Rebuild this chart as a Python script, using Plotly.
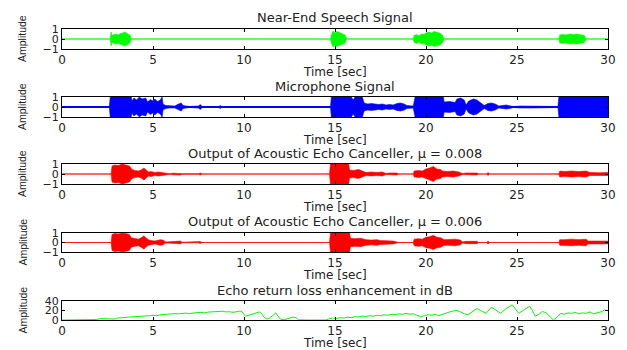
import plotly.graph_objects as go

# ---- data: (time [s], envelope amplitude) breakpoints of each signal ----
near_end = [(0, 0), (2.65, 0), (2.7, 0.7), (2.75, 0.3), (2.85, 0.45), (3.0, 0.5), (3.1, 0.4),
            (3.2, 0.55), (3.35, 0.6), (3.45, 0.7), (3.55, 0.6), (3.65, 0.5), (3.75, 0.35), (3.8, 0),
            (14.75, 0), (14.8, 0.4), (14.9, 0.8), (15.0, 0.6), (15.1, 0.75), (15.25, 0.65),
            (15.4, 0.5), (15.55, 0.4), (15.65, 0),
            (19.3, 0), (19.35, 0.35), (19.5, 0.45), (19.6, 0.3), (19.75, 0.5), (19.9, 0.45),
            (20.0, 0.6), (20.15, 0.7), (20.3, 0.6), (20.45, 0.75), (20.6, 0.65), (20.75, 0.6),
            (20.9, 0.4), (21.0, 0),
            (27.3, 0), (27.35, 0.4), (27.5, 0.45), (27.7, 0.4), (27.9, 0.5), (28.1, 0.45),
            (28.3, 0.5), (28.5, 0.45), (28.7, 0.35), (28.8, 0), (30, 0)]

microphone = [(0, 0), (2.6, 0), (2.65, 1), (3.8, 1), (3.85, 0.6), (3.95, 0.9), (4.1, 0.7),
              (4.25, 1), (4.4, 0.8), (4.6, 0.9), (4.7, 0.5), (4.85, 0.75), (5.0, 0.6), (5.1, 0.8),
              (5.25, 0.55), (5.4, 0.7), (5.5, 1), (5.55, 0.3), (5.7, 0.15), (5.9, 0.1), (6.2, 0.1),
              (6.4, 0.3), (6.55, 0.4), (6.65, 0.15), (7.0, 0.05), (7.5, 0.1), (7.6, 0.25),
              (7.7, 0.05), (8.6, 0.05), (8.7, 0.15), (8.8, 0),
              (14.75, 0), (14.8, 1), (15.9, 1), (16.0, 0.7), (16.1, 1), (16.5, 1), (16.6, 0.4),
              (16.8, 0.3), (17.0, 0.35), (17.2, 0.3), (17.4, 0.25), (17.6, 0.3), (17.8, 0.2),
              (18.0, 0.25), (18.2, 0.2), (18.4, 0.35), (18.6, 0.4), (18.8, 0.3), (18.95, 0.15),
              (19.3, 0.1), (19.4, 1), (20.95, 1), (21.0, 0.5), (21.3, 0.55), (21.6, 0.45),
              (21.7, 0.8), (21.9, 0.9), (22.1, 0.7), (22.2, 0.2), (22.35, 0.6), (22.6, 0.8),
              (22.8, 0.7), (23.0, 0.4), (23.2, 0.15), (23.4, 0.35), (23.6, 0.4), (23.8, 0.3),
              (24.0, 0.1), (24.4, 0.2), (24.6, 0.15), (24.8, 0.05), (25.2, 0.1), (25.8, 0.1),
              (26.0, 0.03), (27.25, 0.05), (27.3, 1), (30, 1)]

aec_out_008 = [(0, 0), (2.7, 0), (2.75, 0.8), (2.9, 0.9), (3.1, 0.85), (3.3, 1.0), (3.5, 0.9),
               (3.7, 0.8), (3.85, 0.45), (4.0, 0.35), (4.2, 0.3), (4.35, 0.4), (4.5, 0.6),
               (4.6, 0.45), (4.75, 0.2), (4.9, 0.25), (5.1, 0.15), (5.3, 0.2), (5.5, 0.15),
               (5.7, 0.1), (5.9, 0.03), (6.1, 0.08), (6.5, 0.1), (6.6, 0.03), (7.5, 0.03),
               (7.6, 0.1), (7.7, 0),
               (14.7, 0), (14.75, 1), (15.75, 1), (15.8, 0.4), (16.0, 0.35), (16.3, 0.45),
               (16.5, 0.3), (16.7, 0.15), (17.0, 0.2), (17.3, 0.15), (17.6, 0.2), (17.8, 0.05),
               (18.0, 0.1), (18.4, 0.1), (18.5, 0),
               (19.3, 0), (19.35, 0.3), (19.6, 0.35), (19.8, 0.3), (20.0, 0.5), (20.2, 0.6),
               (20.4, 0.75), (20.6, 0.5), (20.8, 0.45), (20.9, 0.3), (21.2, 0.25), (21.5, 0.3),
               (21.8, 0.2), (22.0, 0.05), (22.2, 0.1), (22.8, 0.1), (22.9, 0),
               (23.35, 0), (23.4, 0.15), (23.5, 0),
               (27.3, 0), (27.35, 0.3), (27.6, 0.25), (28.0, 0.3), (28.4, 0.25), (28.8, 0.3),
               (29.0, 0.15), (29.5, 0.12), (30, 0.15)]

aec_out_006 = [(0, 0), (2.7, 0), (2.75, 0.85), (2.9, 0.95), (3.1, 0.9), (3.3, 1.0), (3.5, 0.95),
               (3.7, 0.85), (3.8, 0.5), (4.0, 0.4), (4.2, 0.35), (4.4, 0.55), (4.5, 0.7),
               (4.6, 0.5), (4.75, 0.3), (4.9, 0.2), (5.1, 0.15), (5.4, 0.3), (5.55, 0.25),
               (5.7, 0.05), (6.3, 0.1), (6.5, 0.15), (6.6, 0.03), (7.5, 0.03), (7.6, 0.1), (7.7, 0),
               (14.7, 0), (14.75, 1), (15.8, 1), (15.85, 0.45), (16.1, 0.4), (16.4, 0.45),
               (16.7, 0.3), (17.0, 0.25), (17.3, 0.3), (17.5, 0.2), (17.8, 0.15), (18.2, 0.15),
               (18.5, 0),
               (19.3, 0), (19.35, 0.35), (19.6, 0.4), (19.8, 0.35), (20.0, 0.55), (20.2, 0.6),
               (20.4, 0.75), (20.6, 0.55), (20.8, 0.5), (21.0, 0.3), (21.3, 0.3), (21.6, 0.35),
               (21.9, 0.25), (22.0, 0.05), (22.2, 0.12), (22.8, 0.12), (22.9, 0),
               (23.35, 0), (23.4, 0.15), (23.5, 0),
               (27.3, 0), (27.35, 0.3), (27.6, 0.3), (28.0, 0.35), (28.4, 0.3), (28.8, 0.35),
               (28.9, 0.15), (29.5, 0.15), (30, 0.15)]

# echo return loss enhancement [dB]
erle_db = [(0, 0), (0.5, 0), (1.0, 0), (1.5, 0.5), (1.9, 1), (2.1, 3), (2.3, 2.5), (2.5, 3),
           (2.7, 1.5), (2.9, 2), (3.0, 4), (3.2, 4), (3.4, 5), (3.6, 6), (3.8, 6.5), (4.0, 7),
           (4.2, 6), (4.4, 7.5), (4.6, 8), (4.8, 9), (5.0, 10), (5.2, 9), (5.4, 11), (5.6, 12),
           (5.8, 13), (6.0, 12.5), (6.2, 13.5), (6.4, 13), (6.6, 14), (6.8, 14.5), (7.0, 13.5),
           (7.2, 15), (7.4, 15.5), (7.6, 16), (7.8, 15), (8.0, 16.5), (8.2, 17), (8.4, 16),
           (8.6, 18), (8.8, 18.5), (9.0, 17), (9.2, 17.5), (9.4, 16), (9.6, 18), (9.8, 19),
           (9.9, 17), (10.0, 11), (10.1, 8), (10.3, 10), (10.5, 13), (10.7, 15), (10.85, 17),
           (11.0, 12), (11.1, 6), (11.25, 2), (11.4, 4), (11.6, 10), (11.75, 15), (11.85, 9),
           (12.0, 2), (12.2, 0.5), (12.5, 3), (12.7, 6), (12.85, 5), (13.0, 0.5), (13.5, 0),
           (14.0, 0), (14.5, 0), (14.7, 3), (14.9, 4), (15.1, 3), (15.3, 5), (15.5, 4), (15.7, 6),
           (15.9, 5), (16.1, 7), (16.3, 6.5), (16.5, 8), (16.7, 7.5), (16.9, 9), (17.1, 8),
           (17.3, 10), (17.5, 9), (17.7, 11), (17.9, 10), (18.1, 12), (18.3, 11.5), (18.5, 13),
           (18.7, 12), (18.9, 14), (19.1, 12), (19.3, 13), (19.5, 10), (19.7, 7), (19.9, 9),
           (20.1, 11), (20.3, 10), (20.5, 12), (20.7, 9), (20.9, 12), (21.1, 15), (21.3, 17),
           (21.5, 19), (21.7, 20), (21.9, 17), (22.1, 13), (22.3, 11), (22.5, 16), (22.8, 24),
           (23.0, 20), (23.3, 14), (23.6, 27), (23.8, 22), (24.1, 14), (24.4, 24), (24.74, 32),
           (24.9, 24), (25.1, 14), (25.4, 22), (25.7, 29), (25.85, 20), (26.0, 8), (26.2, 12),
           (26.4, 18), (26.6, 15), (26.8, 8), (27.0, 0), (27.2, 6), (27.4, 14), (27.6, 12),
           (27.8, 15), (28.0, 14), (28.2, 16), (28.4, 13), (28.6, 15), (28.8, 14), (29.0, 17),
           (29.2, 13), (29.4, 15), (29.6, 17), (29.8, 21), (30.0, 20)]

titles = ["Near-End Speech Signal",
          "Microphone Signal",
          "Output of Acoustic Echo Canceller, \u03bc = 0.008",
          "Output of Acoustic Echo Canceller, \u03bc = 0.006",
          "Echo return loss enhancement in dB"]
x_ticks = [0, 5, 10, 15, 20, 25, 30]
amp_ticks = [-1, 0, 1]
erle_ticks = [0, 20, 40]

# ---- layout geometry (pixels) ----
W, H = 627, 350
X_LEFT, X_RIGHT = 62, 608
PANELS = [(29, 49), (97, 117), (164, 184), (233, 252), (301, 320)]

XTICK_FONT = dict(family="DejaVu Sans", size=12, color="#222222")
YTICK_FONT = dict(family="DejaVu Sans", size=11, color="#222222")
TITLE_FONT = dict(family="DejaVu Sans", size=13, color="#222222")
XLABEL_FONT = dict(family="DejaVu Sans", size=12, color="#222222")


def py(p):
    return 1 - p / H


fig = go.Figure()


def add_waveform(idx, env, color, base_color, base_width):
    ax = "" if idx == 0 else str(idx + 1)
    t = [p[0] for p in env]
    a = [p[1] for p in env]
    # zero line across the recorded span
    fig.add_trace(go.Scatter(x=[t[0], t[-1]], y=[0 * a[0], 0 * a[-1]], mode="lines",
                             line=dict(color=base_color, width=base_width),
                             xaxis="x" + ax, yaxis="y" + ax, hoverinfo="skip"))
    # envelope of the waveform filled symmetric about zero
    fig.add_trace(go.Scatter(x=t + t[::-1], y=a + [-v for v in a[::-1]], mode="lines",
                             fill="toself", fillcolor=color,
                             line=dict(color=color, width=0.6),
                             xaxis="x" + ax, yaxis="y" + ax, hoverinfo="skip"))


add_waveform(0, near_end, "#00ff00", "#8cff8c", 1.2)
add_waveform(1, microphone, "#0000ff", "#0000ff", 2)
add_waveform(2, aec_out_008, "#ff0000", "#ffaaaa", 1.2)
add_waveform(3, aec_out_006, "#ff0000", "#ffaaaa", 1.2)

fig.add_trace(go.Scatter(x=[p[0] for p in erle_db], y=[p[1] for p in erle_db], mode="lines",
                         line=dict(color="#00ff00", width=1),
                         xaxis="x5", yaxis="y5", hoverinfo="skip"))

layout = dict(width=W, height=H, margin=dict(l=0, r=0, t=0, b=0, autoexpand=False),
              paper_bgcolor="white", plot_bgcolor="white", showlegend=False)

annotations = []
for i, (top, bot) in enumerate(PANELS):
    sfx = "" if i == 0 else str(i + 1)
    layout["xaxis" + sfx] = dict(
        domain=[X_LEFT / W, X_RIGHT / W], anchor="y" + sfx, range=[0, 30],
        tickvals=x_ticks, ticks="inside", ticklen=3, tickcolor="black",
        showline=True, linecolor="black", linewidth=1, mirror="allticks",
        showgrid=False, zeroline=False, tickfont=XTICK_FONT, fixedrange=True,
        automargin=False)
    if i < 4:
        yr, yt = [-1, 1], amp_ticks
    else:
        yr, yt = [0, 40], erle_ticks
    layout["yaxis" + sfx] = dict(
        domain=[py(bot), py(top)], anchor="x" + sfx, range=yr,
        tickvals=yt, ticks="inside", ticklen=3, tickcolor="black",
        showline=True, linecolor="black", linewidth=1, mirror="allticks",
        showgrid=False, zeroline=False, tickfont=YTICK_FONT, fixedrange=True,
        automargin=False)
    xc = (X_LEFT + X_RIGHT) / 2 / W
    annotations.append(dict(text=titles[i], x=xc, y=py(top - 11), xref="paper", yref="paper",
                            xanchor="center", yanchor="middle", showarrow=False, font=TITLE_FONT))
    annotations.append(dict(text="Time [sec]", x=xc, y=py(bot + 23), xref="paper", yref="paper",
                            xanchor="center", yanchor="middle", showarrow=False,
                            font=XLABEL_FONT))
    annotations.append(dict(text="Amplitude", x=22 / W, y=py((top + bot) / 2), xref="paper",
                            yref="paper", xanchor="center", yanchor="middle", showarrow=False,
                            textangle=-90,
                            font=dict(family="Liberation Sans", size=10.5, color="#222222")))

layout["annotations"] = annotations
fig.update_layout(**layout)
fig.write_html("out.html")
